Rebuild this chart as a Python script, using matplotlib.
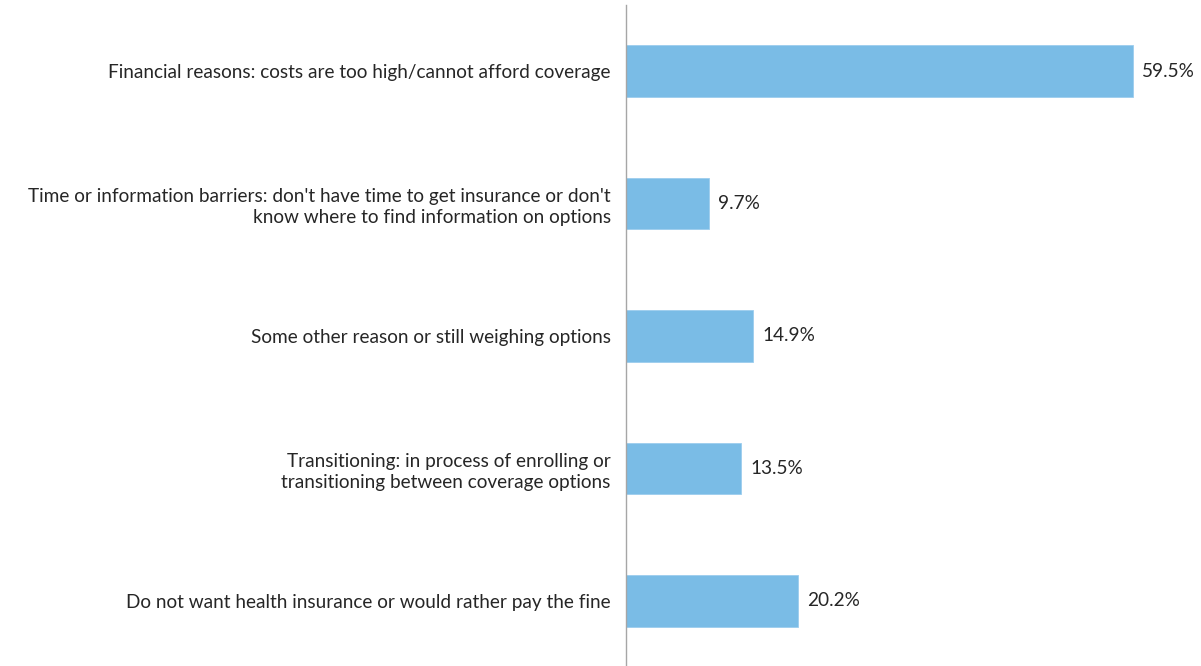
import matplotlib
matplotlib.use("Agg")
import matplotlib.pyplot as plt

categories = [
    "Financial reasons: costs are too high/cannot afford coverage",
    "Time or information barriers: don't have time to get insurance or don't\nknow where to find information on options",
    "Some other reason or still weighing options",
    "Transitioning: in process of enrolling or\ntransitioning between coverage options",
    "Do not want health insurance or would rather pay the fine",
]
values = [59.5, 9.7, 14.9, 13.5, 20.2]
value_labels = ["59.5%", "9.7%", "14.9%", "13.5%", "20.2%"]

plt.rcParams["font.family"] = ["Lato", "DejaVu Sans"]

W, H = 1201, 666
fig = plt.figure(figsize=(W / 100, H / 100), dpi=100)
ax = fig.add_axes([626 / W, -1 / H, 1 - 626 / W, 662 / H])

bar_color = "#7ABCE6"
text_color = "#262626"
fs = 13.7
y = list(range(len(categories)))
ax.barh(y, values, height=0.39, color=bar_color, edgecolor="#9CCDEE", linewidth=0.6)
ax.set_ylim(len(categories) - 0.5, -0.5)
ax.set_xlim(0, 67.5)

for yi, v, lab in zip(y, values, value_labels):
    ax.text(v + 1.1, yi, lab, va="center", ha="left", fontsize=fs, color=text_color)

ax.set_yticks(y)
ax.set_yticklabels(categories, fontsize=fs, color=text_color, linespacing=1.3)
ax.tick_params(axis="y", length=0, pad=11)
ax.set_xticks([])
for s in ["top", "right", "bottom"]:
    ax.spines[s].set_visible(False)
ax.spines["left"].set_color("#A6A6A6")
ax.spines["left"].set_linewidth(1.0)

fig.savefig("out.png", dpi=100)
